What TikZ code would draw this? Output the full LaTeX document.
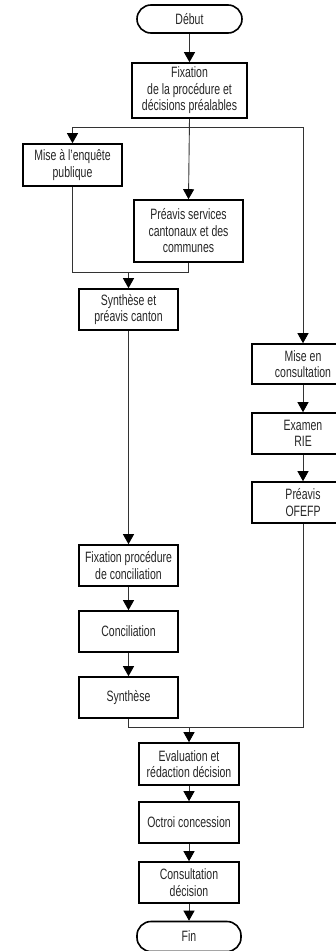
\documentclass[tikz,border=0pt]{standalone}
\usepackage{fontspec}
\setmainfont[FakeStretch=0.70]{Liberation Sans}
\usetikzlibrary{arrows.meta}
\tikzset{
  box/.style={draw=black, line width=1.6pt, rectangle, align=center, inner sep=1pt,
    font=\fontsize{15pt}{16.5pt}\selectfont, text=black!85},
  term/.style={box, rounded corners=14pt},
  arr/.style={draw=black!80, line width=0.9pt, -{Triangle[width=11pt,length=10pt,color=black]}},
  ln/.style={draw=black!80, line width=0.9pt}
}
\begin{document}
\begin{tikzpicture}[x=1pt,y=-1pt]
\useasboundingbox (0,0) rectangle (336,951);
\node[term, minimum width=105pt, minimum height=28pt] (debut) at (189.5,19) {Début};
\node[box, minimum width=115pt, minimum height=55pt] (fix) at (189.5,90.5) {Fixation\\de la procédure et\\décisions préalables};
\node[box, minimum width=99pt, minimum height=42pt] (mise) at (72.5,165) {Mise à l'enquête\\publique};
\node[box, minimum width=109pt, minimum height=62pt] (preavis) at (188.5,231) {Préavis services\\cantonaux et des\\communes};
\node[box, minimum width=99pt, minimum height=41pt] (synthA) at (128.5,309.5) {Synthèse et\\préavis canton};
\node[box, minimum width=102pt, minimum height=40pt] (consult) at (303,364) {Mise en\\consultation};
\node[box, minimum width=102pt, minimum height=41pt] (examen) at (303,433.5) {Examen\\RIE};
\node[box, minimum width=102pt, minimum height=41pt] (ofefp) at (303,502.5) {Préavis\\OFEFP};
\node[box, minimum width=99pt, minimum height=41pt] (fixconc) at (128.5,565.5) {Fixation procédure\\de conciliation};
\node[box, minimum width=99pt, minimum height=41pt] (conc) at (128.5,631.5) {Conciliation};
\node[box, minimum width=99pt, minimum height=41pt] (synthB) at (128.5,697.5) {Synthèse};
\node[box, minimum width=100pt, minimum height=42pt] (eval) at (189,764) {Evaluation et\\rédaction décision};
\node[box, minimum width=100pt, minimum height=41pt] (octroi) at (189,822.5) {Octroi concession};
\node[box, minimum width=100pt, minimum height=41pt] (consdec) at (189,882.5) {Consultation\\décision};
\node[term, minimum width=104pt, minimum height=30pt] (fin) at (189,936.5) {Fin};
\coordinate (split) at (189.5,127);
\coordinate (mA) at (128.5,272);
\coordinate (mB) at (189,727);
\draw[arr] (debut.south) -- (fix.north);
\draw[arr] (fix.south) -- (preavis.north);
\draw[arr] (split) -| (mise.north);
\draw[arr] (split) -| (consult.north);
\draw[ln] (mise.south) |- (mA);
\draw[ln] (preavis.south) |- (mA);
\draw[arr] (mA) -- (synthA.north);
\draw[arr] (synthA.south) -- (fixconc.north);
\draw[arr] (fixconc.south) -- (conc.north);
\draw[arr] (conc.south) -- (synthB.north);
\draw[arr] (consult.south) -- (examen.north);
\draw[arr] (examen.south) -- (ofefp.north);
\draw[ln] (synthB.south) |- (mB);
\draw[ln] (ofefp.south) |- (mB);
\draw[arr] (mB) -- (eval.north);
\draw[arr] (eval.south) -- (octroi.north);
\draw[arr] (octroi.south) -- (consdec.north);
\draw[arr] (consdec.south) -- (fin.north);
\end{tikzpicture}
\end{document}
